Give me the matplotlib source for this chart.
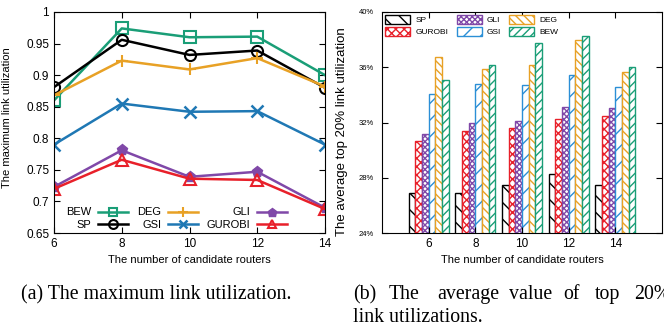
import numpy as np
import matplotlib
matplotlib.use("Agg")
import matplotlib.pyplot as plt

routers = [6, 8, 10, 12, 14]

# (a) maximum link utilization
mlu_bew = [0.860, 0.974, 0.960, 0.961, 0.900]
mlu_sp = [0.881, 0.956, 0.932, 0.939, 0.880]
mlu_deg = [0.868, 0.923, 0.909, 0.927, 0.882]
mlu_gsi = [0.790, 0.855, 0.842, 0.843, 0.790]
mlu_gli = [0.723, 0.781, 0.739, 0.747, 0.690]
mlu_gurobi = [0.720, 0.766, 0.736, 0.734, 0.688]

# (b) average of top 20% link utilizations (%)
top_sp = [26.9, 26.9, 27.45, 28.27, 27.5]
top_gurobi = [30.66, 31.36, 31.6, 32.25, 32.45]
top_gli = [31.2, 31.99, 32.08, 33.1, 33.03]
top_gsi = [34.04, 34.77, 34.75, 35.42, 34.6]
top_deg = [36.74, 35.85, 36.14, 37.95, 35.64]
top_bew = [35.06, 36.14, 37.73, 38.24, 36.0]

green = "#1a9e77"
orange = "#e8a125"
blue = "#1f78b4"
purple = "#8048a8"
red = "#e8202a"

plt.rcParams["font.family"] = ["Liberation Sans", "DejaVu Sans"]
plt.rcParams["font.size"] = 8
plt.rcParams["hatch.linewidth"] = 1.0

fig = plt.figure(figsize=(6.64, 3.28), dpi=100)
ax1 = fig.add_axes([54 / 664, 95 / 328, 271 / 664, 221 / 328])
ax2 = fig.add_axes([382 / 664, 95 / 328, 280 / 664, 221 / 328])

# ---- left panel
lw = 1.8
ax1.plot(routers, mlu_bew, color=green, lw=lw, marker="s", ms=8, mfc="none", mew=1.5, label="BEW")
ax1.plot(routers, mlu_sp, color="black", lw=lw, marker="o", ms=8, mfc="none", mew=1.5, label="SP")
ax1.plot(routers, mlu_deg, color=orange, lw=lw, marker="+", ms=9, mew=1.5, label="DEG")
ax1.plot(routers, mlu_gsi, color=blue, lw=lw, marker="x", ms=8, mew=1.8, label="GSI")
ax1.plot(routers, mlu_gli, color=purple, lw=lw, marker="p", ms=8, label="GLI")
ax1.plot(routers, mlu_gurobi, color=red, lw=lw, marker="^", ms=8, mfc="none", mew=1.5, label="GUROBI")

ax1.set_xlim(6, 14)
ax1.set_ylim(0.65, 1.0)
ax1.set_xticks(routers)
ax1.set_yticks([0.65, 0.7, 0.75, 0.8, 0.85, 0.9, 0.95, 1.0])
ax1.set_yticklabels(["0.65", "0.7", "0.75", "0.8", "0.85", "0.9", "0.95", "1"])
ax1.tick_params(direction="in", top=True, right=True, labelsize=8.5, length=4)
ax1.set_xlabel("The number of candidate routers", fontsize=8)
ax1.set_ylabel("The maximum link utilization", fontsize=8)
ax1.yaxis.set_label_coords(-0.155, 0.52)
ax1.legend(loc="lower left", ncol=3, frameon=False, fontsize=8, markerfirst=False,
           handlelength=2.7, handletextpad=0.6, columnspacing=0.8, labelspacing=0.2,
           markerscale=0.8, borderpad=0, borderaxespad=0, bbox_to_anchor=(0.045, 0.015))

# ---- right panel
x = np.arange(len(routers))
w = 0.144
series = [
    ("SP", top_sp, "black", "\\\\"),
    ("GUROBI", top_gurobi, red, "xxxx"),
    ("GLI", top_gli, purple, "xxxxxx"),
    ("GSI", top_gsi, "#2b8fd6", "//"),
    ("DEG", top_deg, orange, "\\\\\\\\"),
    ("BEW", top_bew, green, "////"),
]
handles = {}
for i, (name, vals, col, hatch) in enumerate(series):
    b = ax2.bar(x + (i - 2.5) * w, vals, width=w, bottom=0, facecolor="white",
                edgecolor=col, hatch=hatch, lw=1.0, label=name)
    handles[name] = b

ax2.set_xlim(-1, 5)
ax2.set_ylim(24, 40)
ax2.set_xticks(x)
ax2.set_xticklabels([str(r) for r in routers])
ax2.set_yticks([24, 28, 32, 36, 40])
ax2.set_yticklabels(["24%", "28%", "32%", "36%", "40%"])
ax2.tick_params(axis="y", labelsize=5.5, pad=6)
ax2.tick_params(axis="x", labelsize=8.5)
ax2.tick_params(direction="in", top=True, right=True, length=4)
ax2.set_xlabel("The number of candidate routers", fontsize=8)
ax2.set_ylabel("The average top 20% link utilization", fontsize=9.5)
ax2.yaxis.set_label_coords(-0.121, 0.46)
order = ["SP", "GUROBI", "GLI", "GSI", "DEG", "BEW"]
ax2.legend([handles[n] for n in order], order, loc="upper left", ncol=3, frameon=False,
           fontsize=6, handlelength=3.0, handleheight=1.2, handletextpad=0.6,
           columnspacing=1.0, labelspacing=0.35, borderpad=0, borderaxespad=0,
           bbox_to_anchor=(0.012, 0.985))

# captions
cap = dict(fontsize=14.3, family="Liberation Serif", va="baseline")
fig.text(20.7 / 664, 1 - 299 / 328, "(a) The maximum link utilization.", **cap)
words_b = ["(b)", "The", "average", "value", "of", "top", "20%"]
words_x = [352.7, 388.7, 437, 508.7, 563, 595, 633.7]
for wd, xp in zip(words_b, words_x):
    fig.text(xp / 664, 1 - 299 / 328, wd, **cap)
fig.text(352.7 / 664, 1 - 322 / 328, "link utilizations.", **cap)

fig.savefig("out.png", dpi=100)
